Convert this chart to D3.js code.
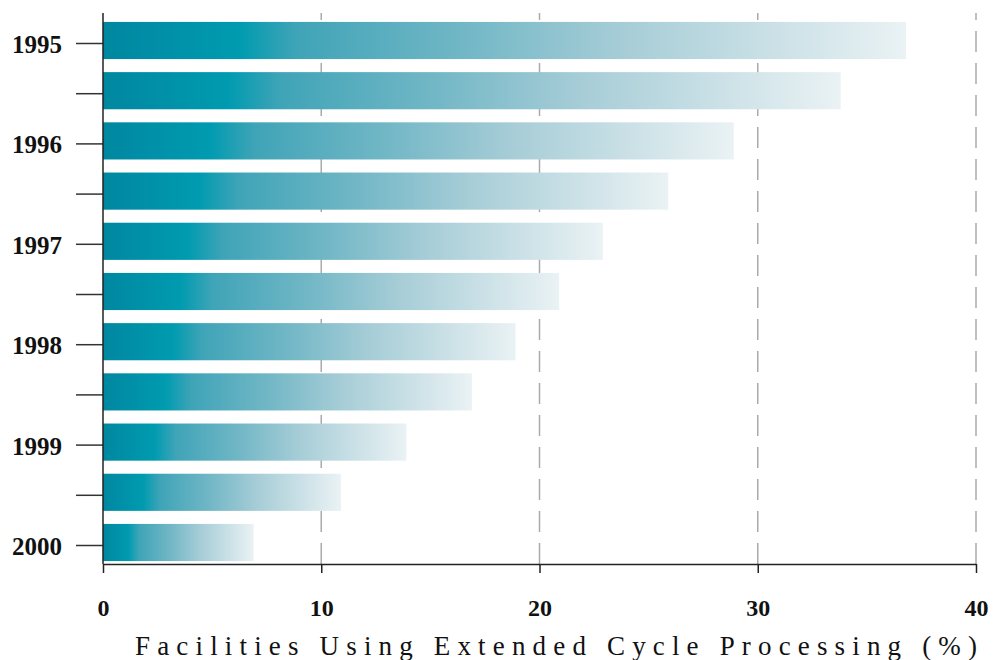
<!DOCTYPE html>
<html>
<head>
<meta charset="utf-8">
<script src="https://cdn.jsdelivr.net/npm/d3@7"></script>
<style>
  body { margin:0; background:#fff; }
  svg text { font-family:"Liberation Serif", "DejaVu Serif", serif; fill:#111; }
</style>
</head>
<body>
<svg id="chart" width="994" height="660"></svg>
<script>
// half-year steps, label only on whole years
const periods = ["1995", "1995b", "1996", "1996b", "1997", "1997b", "1998", "1998b", "1999", "1999b", "2000"];
const periodLabels = ["1995", "", "1996", "", "1997", "", "1998", "", "1999", "", "2000"];
const usage = [36.8, 33.8, 28.9, 25.9, 22.9, 20.9, 18.9, 16.9, 13.9, 10.9, 6.9];
const xTicks = [0, 10, 20, 30, 40];
const xTitle = "Facilities Using Extended Cycle Processing (%)";

const svg = d3.select("#chart");
const plotLeft = 103, plotRight = 976, plotTop = 13, plotBottom = 564;

let x = d3.scaleLinear().domain([0, 40]).range([plotLeft, plotRight]);
let y = d3.scaleBand().domain(periods).range([15.4, 567.6])
  .paddingInner(0.26).paddingOuter(0.13);

// gradient fading each bar to near white
let grad = svg.append("defs").append("linearGradient")
  .attr("id", "barfade")
  .attr("x1", "0%").attr("x2", "100%").attr("y1", "0%").attr("y2", "0%");
[["0%", "#0087a0"], ["17%", "#009bb0"], ["24%", "#3fa4b7"],
 ["45%", "#72b7c6"], ["65%", "#a7cdd7"], ["100%", "#eaf2f4"]].forEach(s => {
  grad.append("stop").attr("offset", s[0]).attr("stop-color", s[1]);
});

// dashed grid, drawn from the bottom up
svg.append("g")
  .selectAll("line")
  .data(xTicks.filter(d => d > 0))
  .enter()
  .append("line")
  .attr("x1", d => x(d)).attr("x2", d => x(d))
  .attr("y1", plotBottom).attr("y2", plotTop)
  .attr("stroke", "#aaa")
  .attr("stroke-width", 1.5)
  .attr("stroke-dasharray", "21,11");

// bars
svg.append("g")
  .selectAll("rect")
  .data(usage)
  .enter()
  .append("rect")
  .attr("x", x(0))
  .attr("y", (d, i) => y(periods[i]))
  .attr("width", d => x(d) - x(0))
  .attr("height", y.bandwidth())
  .attr("fill", "url(#barfade)");

// y axis (ticks sit a little below bar centres)
let yAxis = svg.append("g")
  .attr("transform", "translate(" + plotLeft + ",3)")
  .call(d3.axisLeft(y).tickSize(27).tickPadding(14)
    .tickFormat((d, i) => periodLabels[i]));
yAxis.select(".domain").remove();
yAxis.selectAll(".tick line").attr("stroke", "#333").attr("stroke-width", 1.5);
yAxis.selectAll(".tick text")
  .attr("font-size", "25px").attr("font-weight", "bold").attr("dy", "0.38em");

svg.append("line")
  .attr("x1", plotLeft).attr("x2", plotLeft).attr("y1", plotTop).attr("y2", plotBottom)
  .attr("stroke", "#222").attr("stroke-width", 1.5);

// x axis
let xAxis = svg.append("g")
  .attr("transform", "translate(0," + plotBottom + ")")
  .call(d3.axisBottom(x).tickValues(xTicks).tickSize(9).tickPadding(26).tickSizeOuter(0));
xAxis.select(".domain").attr("stroke", "#222").attr("stroke-width", 1.5);
xAxis.selectAll(".tick line").attr("stroke", "#222").attr("stroke-width", 1.5);
xAxis.selectAll(".tick text")
  .attr("font-size", "24px").attr("font-weight", "bold");

svg.append("text")
  .attr("x", 135).attr("y", 655)
  .attr("font-size", "27px")
  .attr("textLength", 842)
  .attr("lengthAdjust", "spacing")
  .text(xTitle);
</script>
</body>
</html>
